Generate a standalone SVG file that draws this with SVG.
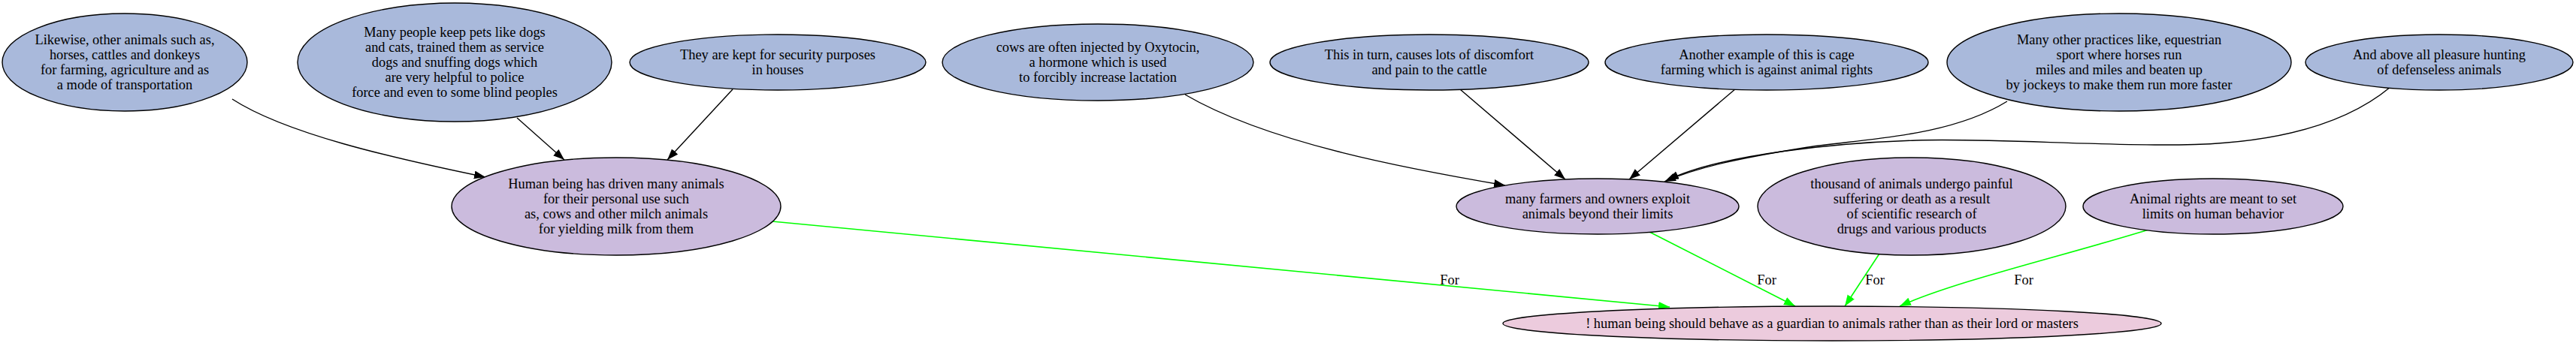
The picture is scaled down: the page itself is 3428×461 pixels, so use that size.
<svg xmlns="http://www.w3.org/2000/svg" width="3428" height="461" viewBox="0 0 3428 461">
<style>
text{font-family:"Liberation Serif","Times New Roman",serif;font-size:18.4px;fill:#000;text-anchor:middle}
.b{fill:#a9b9db;stroke:#000;stroke-width:1.4}
.p{fill:#cbbbdd;stroke:#000;stroke-width:1.4}
.k{fill:#eccbdd;stroke:#000;stroke-width:1.4}
.e{fill:none;stroke:#000;stroke-width:1.4;marker-end:url(#ab)}
.g{fill:none;stroke:#00ff00;stroke-width:1.6;marker-end:url(#ag)}
</style>
<defs>
<marker id="ab" markerUnits="userSpaceOnUse" markerWidth="16" markerHeight="12" refX="15" refY="5.5" orient="auto"><path d="M0,0 L15,5.5 L0,11 z" fill="#000"/></marker>
<marker id="ag" markerUnits="userSpaceOnUse" markerWidth="16" markerHeight="12" refX="15" refY="5.5" orient="auto"><path d="M0,0 L15,5.5 L0,11 z" fill="#00ff00"/></marker>
</defs>
<rect width="3428" height="461" fill="#fff"/>
<g id="edges">
<path class="e" d="M309,132 C380,178 520,210 646,236"/>
<path class="e" d="M688,157 L751,213"/>
<path class="e" d="M975,119 L888,213"/>
<path class="e" d="M1577,126 C1690,192 1880,226 2003,247"/>
<path class="e" d="M1943,119 L2083,239"/>
<path class="e" d="M2310,118 L2168,239"/>
<path class="e" d="M2671,135 C2590,185 2470,185 2400,197 C2320,210 2260,222 2215,242"/>
<path class="e" d="M3181,116 C3110,175 3000,192 2900,193 C2780,194 2650,184 2550,187 C2450,190 2290,205 2219,240"/>
<path class="g" d="M1028,295 L2222,409"/>
<path class="g" d="M2195,309 L2389,408"/>
<path class="g" d="M2501,338 L2455,408"/>
<path class="g" d="M2859,306 C2750,340 2600,375 2528,408"/>
<text x="1929" y="379">For</text>
<text x="2351" y="379">For</text>
<text x="2495" y="379">For</text>
<text x="2693" y="379">For</text>
</g>
<g id="n1"><ellipse class="b" cx="166" cy="83" rx="163" ry="65"/><text x="166" y="59">Likewise, other animals such as,</text><text x="166" y="79">horses, cattles and donkeys</text><text x="166" y="99">for farming, agriculture and as</text><text x="166" y="119">a mode of transportation</text></g>
<g id="n2"><ellipse class="b" cx="605" cy="83" rx="209" ry="79"/><text x="605" y="49">Many people keep pets like dogs</text><text x="605" y="69">and cats, trained them as service</text><text x="605" y="89">dogs and snuffing dogs which</text><text x="605" y="109">are very helpful to police</text><text x="605" y="129">force and even to some blind peoples</text></g>
<g id="n3"><ellipse class="b" cx="1035" cy="83" rx="197" ry="37"/><text x="1035" y="79">They are kept for security purposes</text><text x="1035" y="99">in houses</text></g>
<g id="n4"><ellipse class="b" cx="1461" cy="83" rx="207" ry="51"/><text x="1461" y="69">cows are often injected by Oxytocin,</text><text x="1461" y="89">a hormone which is used</text><text x="1461" y="109">to forcibly increase lactation</text></g>
<g id="n5"><ellipse class="b" cx="1902" cy="83" rx="212" ry="37"/><text x="1902" y="79">This in turn, causes lots of discomfort</text><text x="1902" y="99">and pain to the cattle</text></g>
<g id="n6"><ellipse class="b" cx="2351" cy="83" rx="215" ry="37"/><text x="2351" y="79">Another example of this is cage</text><text x="2351" y="99">farming which is against animal rights</text></g>
<g id="n7"><ellipse class="b" cx="2820" cy="83" rx="229" ry="65"/><text x="2820" y="59">Many other practices like, equestrian</text><text x="2820" y="79">sport where horses run</text><text x="2820" y="99">miles and miles and beaten up</text><text x="2820" y="119">by jockeys to make them run more faster</text></g>
<g id="n8"><ellipse class="b" cx="3246" cy="83" rx="178" ry="37"/><text x="3246" y="79">And above all pleasure hunting</text><text x="3246" y="99">of defenseless animals</text></g>
<g id="n9"><ellipse class="p" cx="820" cy="275" rx="219" ry="65"/><text x="820" y="251">Human being has driven many animals</text><text x="820" y="271">for their personal use such</text><text x="820" y="291">as, cows and other milch animals</text><text x="820" y="311">for yielding milk from them</text></g>
<g id="n10"><ellipse class="p" cx="2126" cy="275" rx="188" ry="37"/><text x="2126" y="271">many farmers and owners exploit</text><text x="2126" y="291">animals beyond their limits</text></g>
<g id="n11"><ellipse class="p" cx="2544" cy="275" rx="205" ry="65"/><text x="2544" y="251">thousand of animals undergo painful</text><text x="2544" y="271">suffering or death as a result</text><text x="2544" y="291">of scientific research of</text><text x="2544" y="311">drugs and various products</text></g>
<g id="n12"><ellipse class="p" cx="2945" cy="275" rx="173" ry="37"/><text x="2945" y="271">Animal rights are meant to set</text><text x="2945" y="291">limits on human behavior</text></g>
<g id="n13"><ellipse class="k" cx="2438" cy="431" rx="438" ry="23"/><text x="2438" y="437">! human being should behave as a guardian to animals rather than as their lord or masters</text></g>
</svg>
